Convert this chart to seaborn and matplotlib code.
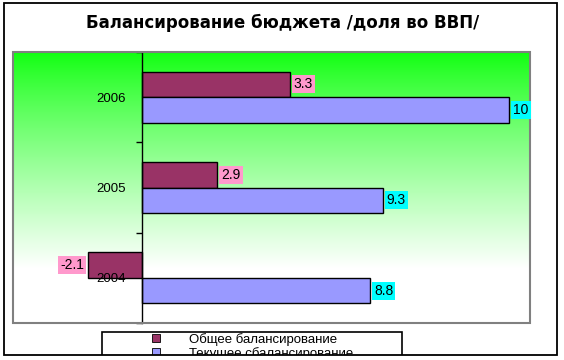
import numpy as np
import pandas as pd
import matplotlib
matplotlib.use("Agg")
import matplotlib.pyplot as plt
import seaborn as sns
from matplotlib.patches import Rectangle

# data as drawn in the reference (bar lengths) and the labels printed on them
years = ["2006", "2005", "2004"]
series = ["Общее балансирование", "Текущее сбалансирование"]
general_vals = [5.7, 2.9, -2.1]
current_vals = [14.2, 9.3, 8.8]
general_labels = ["3.3", "2.9", "-2.1"]
current_labels = ["10", "9.3", "8.8"]

df = pd.DataFrame({
    "year": years * 2,
    "series": [series[0]] * 3 + [series[1]] * 3,
    "value": general_vals + current_vals,
})

sns.set_style("white")
plt.rcParams["font.family"] = ["Liberation Sans", "DejaVu Sans"]
plt.rcParams["text.color"] = "black"
plt.rcParams["ytick.color"] = "black"
plt.rcParams["xtick.color"] = "black"

W, H = 564, 360
fig = plt.figure(figsize=(W / 100, H / 100), dpi=100)


def fx(px):
    return px / W


def fy(py):
    return 1 - py / H


ax = fig.add_axes([fx(13), fy(323), fx(530) - fx(13), fy(52) - fy(323)])

# green -> white gradient background
t = np.linspace(0, 1, 256)
w = np.clip(t / 0.8, 0, 1) ** 0.85
grad = np.ones((256, 1, 3))
grad[:, 0, 0] = 0.06 + 0.94 * w
grad[:, 0, 2] = 0.06 + 0.94 * w
ax.imshow(grad, extent=(-5, 15, 2.5, -0.5), aspect="auto", zorder=0)

sns.barplot(data=df, y="year", x="value", hue="series", order=years,
            hue_order=series, palette=["#993366", "#9999ff"], width=0.565,
            edgecolor="black", linewidth=1.0, saturation=1, ax=ax,
            legend=False, orient="h")

ax.set_xlim(-5, 15)
ax.set_ylim(2.5, -0.5)
ax.set_xlabel("")
ax.set_ylabel("")
ax.set_xticks([])

# category axis at x=0
ax.set_axisbelow(False)
ax.spines["left"].set_position(("data", 0))
ax.spines["left"].set_color("black")
ax.spines["left"].set_linewidth(1.0)
for s in ["top", "right", "bottom"]:
    ax.spines[s].set_visible(False)
ax.add_patch(Rectangle((0, 0), 1, 1, transform=ax.transAxes, fill=False,
                       edgecolor="#808080", linewidth=1.5, zorder=3, clip_on=False))

ax.set_yticks([-0.5, 0.5, 1.5, 2.5])
ax.set_yticklabels([])
ax.set_yticks([0, 1, 2], minor=True)
ax.set_yticklabels(years, minor=True, fontsize=9.5, color="black")
ax.tick_params(axis="y", which="major", direction="out", length=4, width=1,
               left=True, color="black")
ax.tick_params(axis="y", which="minor", length=0, pad=12)

# value labels
label_sets = [(general_labels, "#ff99cc"), (current_labels, "#00ffff")]
for cont, (labs, col) in zip(ax.containers, label_sets):
    ax.bar_label(cont, labels=labs, padding=3, fontsize=10, zorder=4, color="black",
                 bbox=dict(boxstyle="square,pad=0.15", facecolor=col, edgecolor="none"))

# title
fig.text(fx(283), fy(23), "Балансирование бюджета /доля во ВВП/", ha="center",
         va="center", fontsize=12, fontweight="bold", family="DejaVu Sans",
         color="black")

# legend (box partly cut by the chart frame, as in the reference)
fig.patches.append(Rectangle((fx(102), fy(362)), fx(402) - fx(102), fy(332) - fy(362),
                             transform=fig.transFigure, fill=False,
                             edgecolor="black", linewidth=1.2, zorder=4))
handles = [Rectangle((0, 0), 1, 1, facecolor=c, edgecolor="black", linewidth=0.6)
           for c in ["#993366", "#9999ff"]]
fig.legend(handles, series, loc="upper left", bbox_to_anchor=(fx(152), fy(333)),
           frameon=False, fontsize=9.5, handlelength=0.6, handleheight=0.6,
           handletextpad=2.2, labelspacing=0.05, borderpad=0, borderaxespad=0,
           labelcolor="black")

# white band below the frame and the outer frame
fig.patches.append(Rectangle((0, 0), 1, fy(355), transform=fig.transFigure,
                             facecolor="white", edgecolor="none", zorder=10))
fig.patches.append(Rectangle((fx(4), fy(355)), fx(557) - fx(4), fy(3) - fy(355),
                             transform=fig.transFigure, fill=False,
                             edgecolor="black", linewidth=1.3, zorder=11))

fig.savefig("out.png", dpi=100)
